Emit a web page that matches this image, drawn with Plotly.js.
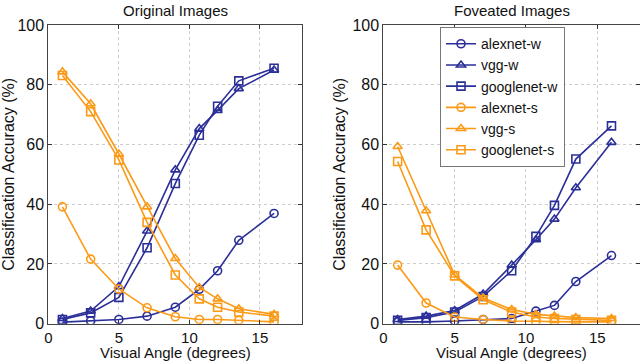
<!DOCTYPE html>
<html>
<head>
<meta charset="utf-8">
<script src="https://cdn.plot.ly/plotly-3.0.1.min.js"></script>
<style>
  html, body { margin: 0; padding: 0; background: #fff; }
  #chart { width: 640px; height: 362px; }
</style>
</head>
<body>
<div id="chart"></div>
<script>
// visual angles (degrees)
const angles = [1, 3, 5, 7, 9, 10.7, 12, 13.5, 16];

// Original images
const origAlexW = [0.5, 0.9, 1.4, 2.5, 5.5, 11.5, 17.7, 27.9, 36.9];
const origVggW = [1.7, 4.2, 12.4, 31, 51.5, 65.3, 71.4, 78.7, 84.9];
const origGoogW = [1.4, 3.6, 8.8, 25.4, 46.9, 63.1, 72.8, 81.3, 85.5];
const origAlexS = [39.1, 21.6, 11.6, 5.3, 2.3, 1.4, 1.4, 1.1, 0.6];
const origVggS = [84.3, 73.6, 56.8, 39.1, 21.8, 12.1, 8.3, 5, 3.1];
const origGoogS = [83.1, 71, 54.8, 33.9, 16.3, 8.3, 5.5, 3.9, 2.5];

// Foveated images
const fovAlexW = [0.6, 0.6, 0.9, 1.4, 1.7, 4.2, 6.1, 14.1, 22.8];
const fovVggW = [1.4, 2.5, 4.4, 9.9, 19.6, 28.1, 35, 45.5, 60.7];
const fovGoogW = [1.1, 2, 3.9, 9.1, 17.7, 29.2, 39.6, 55.1, 66.2];
const fovAlexS = [19.6, 6.9, 2.2, 1.4, 0.9, 0.7, 0.6, 0.6, 0.6];
const fovVggS = [59.3, 37.8, 16.3, 8.6, 4.7, 3.1, 2.5, 2, 1.7];
const fovGoogS = [54.3, 31.4, 16, 8, 3.9, 2.2, 1.7, 1.4, 1.1];

const seriesNames = ['alexnet-w', 'vgg-w', 'googlenet-w', 'alexnet-s', 'vgg-s', 'googlenet-s'];
const panelTitles = ['Original Images', 'Foveated Images'];
const xTitle = 'Visual Angle (degrees)';

const BLUE = '#2b2f98';
const ORANGE = '#fb9a17';
const colors = [BLUE, BLUE, BLUE, ORANGE, ORANGE, ORANGE];
const symbols = ['circle-open', 'triangle-up-open', 'square-open', 'circle-open', 'triangle-up-open', 'square-open'];

const origData = [origAlexW, origVggW, origGoogW, origAlexS, origVggS, origGoogS];
const fovData = [fovAlexW, fovVggW, fovGoogW, fovAlexS, fovVggS, fovGoogS];

const traces = [];
origData.forEach((ys, i) => {
  traces.push({
    x: angles, y: ys, type: 'scatter', mode: 'lines+markers',
    name: seriesNames[i], showlegend: false,
    xaxis: 'x', yaxis: 'y',
    line: { color: colors[i], width: 1.6 },
    marker: { symbol: symbols[i], size: 8, color: colors[i], line: { width: 1.6, color: colors[i] } }
  });
});
fovData.forEach((ys, i) => {
  traces.push({
    x: angles, y: ys, type: 'scatter', mode: 'lines+markers',
    name: seriesNames[i], showlegend: true,
    xaxis: 'x2', yaxis: 'y2',
    line: { color: colors[i], width: 1.6 },
    marker: { symbol: symbols[i], size: 8, color: colors[i], line: { width: 1.6, color: colors[i] } }
  });
});

const FONT = 'Liberation Sans, Arial, sans-serif';

function xAxis(domain, anchor) {
  return {
    domain: domain, anchor: anchor, range: [0, 18],
    tickvals: [0, 5, 10, 15], ticks: 'inside', ticklen: 4, tickcolor: '#333',
    showline: true, linecolor: '#444', linewidth: 1, mirror: 'ticks',
    showgrid: true, gridcolor: '#ccc', griddash: 'dot', gridwidth: 1,
    zeroline: false,
    tickfont: { family: FONT, size: 15, color: '#111' }
  };
}
function yAxis(domain, anchor) {
  return {
    domain: domain, anchor: anchor, range: [0, 100],
    tickvals: [0, 20, 40, 60, 80, 100], ticks: 'inside', ticklen: 4, tickcolor: '#333',
    showline: true, linecolor: '#444', linewidth: 1, mirror: 'ticks',
    showgrid: true, gridcolor: '#ccc', griddash: 'dot', gridwidth: 1,
    zeroline: false,
    tickfont: { family: FONT, size: 16, color: '#111' },
    title: { text: 'Classification Accuracy (%)', font: { family: FONT, size: 16, color: '#111' }, standoff: 2 }
  };
}

const yDom = [0.106, 0.931];

const annotations = panelTitles.map((t, i) => ({
  text: t, showarrow: false,
  xref: i === 0 ? 'x domain' : 'x2 domain', yref: 'paper',
  x: 0.5, y: 1, yanchor: 'top', xanchor: 'center',
  font: { family: FONT, size: 15, color: '#111' }
}));
['x domain', 'x2 domain'].forEach(ref => {
  annotations.push({
    text: xTitle, showarrow: false,
    xref: ref, yref: 'paper', x: 0.5, y: 0, xanchor: 'center', yanchor: 'bottom',
    borderpad: 0,
    font: { family: FONT, size: 15, color: '#111' }
  });
});

const layout = {
  width: 640, height: 362,
  margin: { l: 0, r: 0, t: 0, b: 0 },
  paper_bgcolor: '#fff', plot_bgcolor: '#fff',
  font: { family: FONT, color: '#111' },
  xaxis: xAxis([0.0755, 0.4723], 'y'),
  yaxis: yAxis(yDom, 'x'),
  xaxis2: xAxis([0.599, 1.0], 'y2'),
  yaxis2: yAxis(yDom, 'x2'),
  legend: {
    x: 0.6875, y: 0.925, xanchor: 'left', yanchor: 'top',
    bgcolor: '#fff', bordercolor: '#777', borderwidth: 1,
    font: { family: FONT, size: 14, color: '#111' },
    itemwidth: 30, tracegroupgap: 0
  },
  annotations: annotations
};

Plotly.newPlot('chart', traces, layout, { displayModeBar: false, staticPlot: true });
</script>
</body>
</html>
